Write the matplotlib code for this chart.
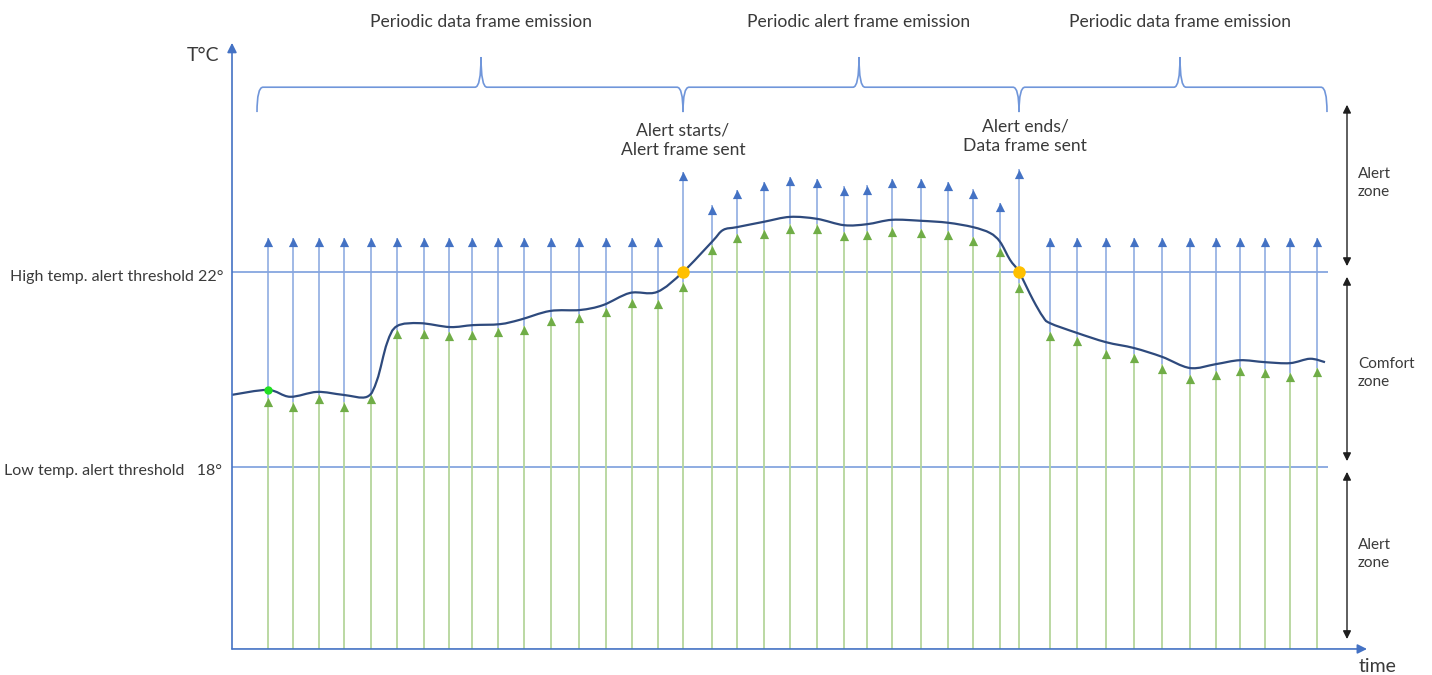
import numpy as np
import matplotlib
matplotlib.use("Agg")
import matplotlib.pyplot as plt
from matplotlib.path import Path
from matplotlib.patches import PathPatch
from matplotlib import transforms

plt.rcParams['font.family'] = ['Lato', 'DejaVu Sans']

# thresholds (degC)
high_threshold = 22.0
low_threshold = 18.0

# temperature curve knots (time, degC)
curve_time = [0, 36, 58, 85, 111, 135, 145, 155, 165, 188, 218, 241, 268, 288, 318, 348,
              371, 398, 425, 451, 480, 491, 505, 532, 558, 585, 612, 635, 660, 689, 716,
              741, 758, 768, 778, 787, 801, 811, 818, 845, 874, 902, 930, 958, 984, 1008,
              1033, 1058, 1078, 1093]
curve_temp = [19.48, 19.58, 19.44, 19.54, 19.48, 19.44, 19.78, 20.54, 20.89, 20.95, 20.87,
              20.91, 20.93, 21.02, 21.20, 21.22, 21.32, 21.57, 21.59, 22.00, 22.62, 22.86,
              22.92, 23.03, 23.13, 23.09, 22.96, 22.98, 23.07, 23.05, 23.01, 22.92, 22.80,
              22.62, 22.25, 22.00, 21.43, 21.08, 20.95, 20.75, 20.56, 20.44, 20.26, 20.03,
              20.11, 20.19, 20.15, 20.13, 20.22, 20.15]

# measurements (green arrows)
sample_time = [36, 61, 87, 112, 139, 165, 192, 217, 240, 266, 292, 319, 347, 374, 400, 426,
               451,
               480, 505, 532, 558, 585, 612, 635, 660, 689, 716, 741, 768,
               787,
               818, 845, 874, 902, 930, 958, 984, 1008, 1033, 1058, 1085]
sample_temp = [19.42, 19.33, 19.48, 19.33, 19.48, 20.81, 20.81, 20.77, 20.79, 20.85, 20.89,
               21.08, 21.14, 21.26, 21.45, 21.43,
               21.79,
               22.55, 22.78, 22.86, 22.98, 22.98, 22.82, 22.84, 22.92, 22.88, 22.84, 22.72, 22.49,
               21.77,
               20.77, 20.67, 20.40, 20.32, 20.11, 19.89, 19.97, 20.05, 20.01, 19.93, 20.03]

# emitted frames (blue arrows): tip level of each frame
data_frame_level = 22.70
event_frame_level = [24.05, 24.11]          # alert starts / alert ends
alert_frame_level = [23.37, 23.68, 23.85, 23.95, 23.91, 23.76, 23.78, 23.91, 23.91,
                     23.85, 23.70, 23.42]
n_data_1, n_alert, n_data_2 = 16, 12, 11

phase_labels = ["Periodic data frame emission", "Periodic alert frame emission",
                "Periodic data frame emission"]

BLUE = '#4472C4'
BLUE_LIGHT = '#86A6DF'
GREEN = '#70AD47'
GREEN_LIGHT = '#B5D69C'
TXT = '#3A3A3A'

fig = plt.figure(figsize=(14.32, 6.75), dpi=100)
ax = fig.add_axes([0, 0, 1, 1])
ax.set_xlim(-232, 1200)
ax.set_ylim(13.733, 27.579)
ax.axis('off')

y_floor = 14.267

# frame tips per sample
frame_tops = ([data_frame_level] * n_data_1 + [event_frame_level[0]] + alert_frame_level
              + [event_frame_level[1]] + [data_frame_level] * n_data_2)

# head marker offset so the triangle tip sits on the value
head_off = transforms.offset_copy(ax.transData, fig=fig, x=0, y=-4.4, units='dots')

# green measurement arrows
ax.vlines(sample_time, y_floor, sample_temp, color=GREEN_LIGHT, lw=1.3, zorder=2)
ax.scatter(sample_time, sample_temp, marker='^', s=44, color=GREEN, lw=0,
           transform=head_off, zorder=4)

# blue frame arrows
ax.vlines(sample_time, sample_temp, frame_tops, color=BLUE_LIGHT, lw=1.1, zorder=2)
ax.scatter(sample_time, frame_tops, marker='^', s=44, color=BLUE, lw=0,
           transform=head_off, zorder=4)

# threshold lines
ax.hlines([high_threshold, low_threshold], 0, 1096, color='#7096DA', lw=1.1, zorder=1)


# smooth temperature curve (Catmull-Rom -> cubic Bezier)
def smooth_path(xs, ys, k=1 / 6):
    pts = np.column_stack([xs, ys])
    verts = [pts[0]]
    codes = [Path.MOVETO]
    for i in range(len(pts) - 1):
        p0 = pts[max(i - 1, 0)]
        p1 = pts[i]
        p2 = pts[i + 1]
        p3 = pts[min(i + 2, len(pts) - 1)]
        verts += [p1 + (p2 - p0) * k, p2 - (p3 - p1) * k, p2]
        codes += [Path.CURVE4] * 3
    return Path(verts, codes)


ax.add_patch(PathPatch(smooth_path(curve_time, curve_temp), fc='none', ec='#2E4A7D',
                       lw=1.6, zorder=3))

# markers on the curve
ax.plot(curve_time[1], curve_temp[1], 'o', ms=5, color='#22E022', zorder=5)
ax.plot([sample_time[16], sample_time[29]], [high_threshold, high_threshold], 'o', ms=8,
        color='#FFC000', zorder=5)

# axes arrows
ax.annotate('', xy=(0, 26.70), xytext=(0, y_floor),
            arrowprops=dict(arrowstyle='-|>', color=BLUE, lw=1.2, mutation_scale=14,
                            shrinkA=0, shrinkB=0))
ax.annotate('', xy=(1135, y_floor), xytext=(0, y_floor),
            arrowprops=dict(arrowstyle='-|>', color=BLUE, lw=1.2, mutation_scale=14,
                            shrinkA=0, shrinkB=0))
ax.text(-29, 26.45, 'T°C', fontsize=14, color=TXT, ha='center', va='center')
ax.text(1146, 13.90, 'time', fontsize=14, color=TXT, ha='center', va='center')

ax.text(-9, 21.90, 'High temp. alert threshold 22°', fontsize=11.5, color=TXT,
        ha='right', va='center')
ax.text(-10, 17.92, 'Low temp. alert threshold   18°', fontsize=11.5, color=TXT,
        ha='right', va='center')


# curly braces above the phases
def brace(x0, x1, xm, y_end=25.28, y_mid=25.79, y_tip=26.41, r=6):
    verts = [(x0, y_end), (x0, y_mid), (x0 + r, y_mid),
             (xm - r, y_mid), (xm, y_mid), (xm, y_tip),
             (xm, y_mid), (xm + r, y_mid),
             (x1 - r, y_mid), (x1, y_mid), (x1, y_end)]
    codes = [Path.MOVETO, Path.CURVE3, Path.CURVE3,
             Path.LINETO, Path.CURVE3, Path.CURVE3,
             Path.CURVE3, Path.CURVE3,
             Path.LINETO, Path.CURVE3, Path.CURVE3]
    ax.add_patch(PathPatch(Path(verts, codes), fc='none', ec='#7096DA', lw=1.2))


phase_bounds = [(25, sample_time[16], 249), (sample_time[16], sample_time[29], 627),
                (sample_time[29], 1095, 948)]
for (a, b, m), lab in zip(phase_bounds, phase_labels):
    brace(a, b, m)
    ax.text(m, 27.13, lab, fontsize=12.6, color=TXT, ha='center', va='center')

ax.text(sample_time[16], 24.70, 'Alert starts/\nAlert frame sent', fontsize=12.6,
        color=TXT, ha='center', va='center', linespacing=1.3)
ax.text(793, 24.79, 'Alert ends/\nData frame sent', fontsize=12.6,
        color=TXT, ha='center', va='center', linespacing=1.3)

# zone arrows on the right
zones = [(25.43, 22.12, 23.83, 'Alert\nzone'), (21.90, 18.12, 19.93, 'Comfort\nzone'),
         (17.90, 14.47, 16.22, 'Alert\nzone')]
for top, bot, mid, lab in zones:
    ax.annotate('', xy=(1115, top), xytext=(1115, bot),
                arrowprops=dict(arrowstyle='<|-|>', color='#1E1E1E', lw=1.0,
                                mutation_scale=12, shrinkA=0, shrinkB=0))
    ax.text(1126, mid, lab, fontsize=11, color=TXT, ha='left', va='center',
            linespacing=1.4)

fig.savefig('out.png', dpi=100)
